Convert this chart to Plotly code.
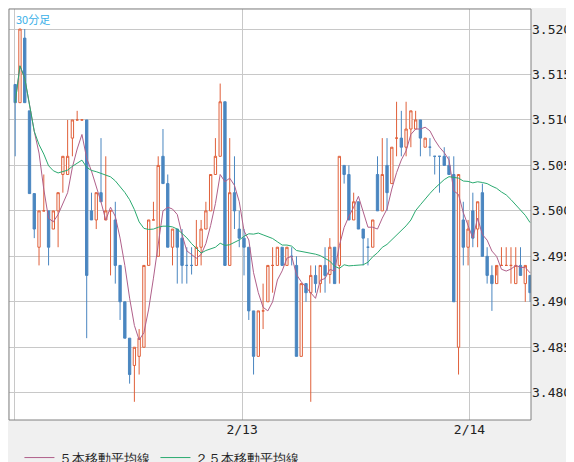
import numpy as np
import pandas as pd
import plotly.graph_objects as go

# 30-minute candles
opens = [3.5139, 3.5119, 3.5190, 3.5110, 3.5019, 3.4960, 3.5000, 3.5000, 3.4980, 3.5000,
         3.5040, 3.5040, 3.5080, 3.5100, 3.5100, 3.5100, 3.5000, 3.4990, 3.5020, 3.4990,
         3.5000, 3.4990, 3.4940, 3.4900, 3.4860, 3.4830, 3.4840, 3.4850, 3.4940, 3.4990,
         3.4950, 3.5060, 3.5030, 3.4960, 3.4980, 3.4970, 3.4940, 3.4940, 3.4940, 3.4960,
         3.4980, 3.5000, 3.5040, 3.5060, 3.5120, 3.4940, 3.5020, 3.4980, 3.4970, 3.4960,
         3.4890, 3.4840, 3.4890, 3.4900, 3.4940, 3.4940, 3.4960, 3.4940, 3.4950, 3.4940,
         3.4840, 3.4920, 3.4910, 3.4929, 3.4920, 3.4940, 3.4930, 3.4960, 3.4940, 3.5050,
         3.5040, 3.4990, 3.5010, 3.4980, 3.4960, 3.4960, 3.5040, 3.5000, 3.5050, 3.5030,
         3.5080, 3.5080, 3.5070, 3.5090, 3.5090, 3.5100, 3.5070, 3.5070, 3.5060, 3.5060,
         3.5060, 3.5050, 3.5040, 3.4850, 3.4990, 3.4960, 3.5000, 3.4980, 3.5020, 3.4950,
         3.4929, 3.4920, 3.4940, 3.4940, 3.4940, 3.4920, 3.4940, 3.4920, 3.4929]
highs = [3.5139, 3.5200, 3.5200, 3.5110, 3.5019, 3.5000, 3.5040, 3.5000, 3.5000, 3.5020,
         3.5060, 3.5100, 3.5100, 3.5110, 3.5100, 3.5100, 3.5020, 3.5020, 3.5080, 3.5060,
         3.5000, 3.5010, 3.4940, 3.4900, 3.4860, 3.4850, 3.4870, 3.4940, 3.4990, 3.5010,
         3.5060, 3.5090, 3.5040, 3.4980, 3.4980, 3.4980, 3.4960, 3.4960, 3.4990, 3.4990,
         3.5010, 3.5040, 3.5080, 3.5140, 3.5120, 3.5080, 3.5060, 3.5000, 3.4980, 3.4960,
         3.4890, 3.4890, 3.4920, 3.4940, 3.4960, 3.4960, 3.4960, 3.4960, 3.4960, 3.4950,
         3.4920, 3.4920, 3.4940, 3.4940, 3.4940, 3.4960, 3.4970, 3.4960, 3.5060, 3.5050,
         3.5050, 3.5020, 3.5010, 3.4980, 3.4970, 3.4990, 3.5060, 3.5080, 3.5080, 3.5070,
         3.5120, 3.5110, 3.5120, 3.5110, 3.5110, 3.5100, 3.5080, 3.5080, 3.5060, 3.5060,
         3.5070, 3.5060, 3.5060, 3.5040, 3.5010, 3.4990, 3.5020, 3.5010, 3.5030, 3.4960,
         3.4940, 3.4929, 3.4960, 3.4960, 3.4960, 3.4960, 3.4960, 3.4940, 3.4929]
lows = [3.5060, 3.5119, 3.5119, 3.5019, 3.4970, 3.4940, 3.5000, 3.4940, 3.4980, 3.4960,
        3.5020, 3.5040, 3.5060, 3.5100, 3.5100, 3.4860, 3.4990, 3.4980, 3.5010, 3.4990,
        3.4929, 3.4920, 3.4880, 3.4860, 3.4810, 3.4790, 3.4820, 3.4850, 3.4940, 3.4990,
        3.4950, 3.5030, 3.4960, 3.4940, 3.4920, 3.4920, 3.4920, 3.4930, 3.4940, 3.4940,
        3.4980, 3.5000, 3.5040, 3.5060, 3.4940, 3.4940, 3.4980, 3.4960, 3.4929, 3.4880,
        3.4820, 3.4840, 3.4870, 3.4900, 3.4910, 3.4940, 3.4940, 3.4940, 3.4940, 3.4840,
        3.4840, 3.4900, 3.4790, 3.4910, 3.4910, 3.4910, 3.4920, 3.4920, 3.4920, 3.5030,
        3.4990, 3.4990, 3.4980, 3.4940, 3.4940, 3.4960, 3.5000, 3.5000, 3.5000, 3.5030,
        3.5060, 3.5060, 3.5060, 3.5070, 3.5090, 3.5060, 3.5070, 3.5060, 3.5040, 3.5020,
        3.5050, 3.5040, 3.4900, 3.4820, 3.4940, 3.4940, 3.4960, 3.4960, 3.4950, 3.4920,
        3.4890, 3.4920, 3.4940, 3.4940, 3.4920, 3.4920, 3.4929, 3.4900, 3.4900]
closes = [3.5119, 3.5200, 3.5119, 3.5019, 3.4980, 3.5000, 3.5000, 3.4960, 3.5000, 3.5020,
          3.5060, 3.5060, 3.5100, 3.5100, 3.5100, 3.4929, 3.4990, 3.5020, 3.5010, 3.5000,
          3.5000, 3.4940, 3.4900, 3.4860, 3.4820, 3.4850, 3.4860, 3.4940, 3.4990, 3.4990,
          3.5050, 3.5030, 3.4960, 3.4980, 3.4960, 3.4940, 3.4940, 3.4940, 3.4960, 3.4980,
          3.5000, 3.5040, 3.5060, 3.5120, 3.4940, 3.5020, 3.5000, 3.4970, 3.4960, 3.4890,
          3.4840, 3.4890, 3.4890, 3.4940, 3.4940, 3.4960, 3.4940, 3.4960, 3.4950, 3.4840,
          3.4920, 3.4910, 3.4929, 3.4920, 3.4940, 3.4929, 3.4960, 3.4920, 3.5060, 3.5040,
          3.4990, 3.5010, 3.4980, 3.4970, 3.4960, 3.4990, 3.5000, 3.5040, 3.5020, 3.5070,
          3.5080, 3.5070, 3.5090, 3.5110, 3.5100, 3.5080, 3.5080, 3.5070, 3.5060, 3.5060,
          3.5050, 3.5040, 3.4900, 3.5040, 3.4960, 3.4980, 3.4970, 3.5010, 3.4950, 3.4929,
          3.4920, 3.4940, 3.4940, 3.4940, 3.4940, 3.4940, 3.4929, 3.4940, 3.4910]

date_pos = [-0.1, 47.6, 95.3]
date_labels = ["", "2/13", "2/14"]
y_ticks = [3.480, 3.485, 3.490, 3.495, 3.500, 3.505, 3.510, 3.515, 3.520]

x = list(range(len(closes)))
close_s = pd.Series(closes)
ma5 = close_s.rolling(5, min_periods=1).mean()
ma25 = close_s.rolling(25, min_periods=1).mean()

RED = "#e0603a"
BLUE = "#4a86c0"
FONT = "DejaVu Sans Mono"

fig = go.Figure()
fig.add_trace(go.Candlestick(
    x=x, open=opens, high=highs, low=lows, close=closes,
    increasing={"line": {"color": RED, "width": 1}, "fillcolor": "white"},
    decreasing={"line": {"color": BLUE, "width": 1}, "fillcolor": BLUE},
    whiskerwidth=0, showlegend=False, hoverinfo="skip",
))
fig.add_trace(go.Scatter(x=x, y=ma5, mode="lines", name="５本移動平均線",
                         line={"color": "#b0608a", "width": 1}))
fig.add_trace(go.Scatter(x=x, y=ma25, mode="lines", name="２５本移動平均線",
                         line={"color": "#2aaa70", "width": 1}))

fig.update_layout(
    width=574, height=462,
    margin={"l": 1, "r": 51, "t": 1, "b": 50, "autoexpand": False},
    paper_bgcolor="#f0f0f0", plot_bgcolor="white",
    font={"family": FONT, "size": 13, "color": "#222"},
    showlegend=True,
    legend={"orientation": "h", "x": 0.02, "y": -0.055, "yanchor": "top",
            "font": {"size": 13}, "itemwidth": 30, "bgcolor": "rgba(0,0,0,0)"},
    xaxis={"range": [-1.3, 108.2], "tickvals": date_pos, "ticktext": date_labels,
           "showgrid": True, "gridcolor": "#c8c8c8", "rangeslider": {"visible": False},
           "ticks": "", "zeroline": False, "fixedrange": True},
    yaxis={"range": [3.4770, 3.5222], "side": "right", "tickvals": y_ticks,
           "tickformat": ".3f", "showgrid": True, "gridcolor": "#c8c8c8",
           "ticks": "", "zeroline": False},
    annotations=[{"text": "30分足", "xref": "paper", "yref": "paper", "x": 0.01, "y": 1.0,
                  "xanchor": "left", "yanchor": "top", "showarrow": False,
                  "font": {"color": "#3ab0e8", "size": 11, "family": "Noto Sans CJK JP"}}],
    shapes=[
        {"type": "rect", "xref": "paper", "yref": "paper", "x0": 0, "x1": 1, "y0": 0, "y1": 1,
         "line": {"color": "#808080", "width": 1}},
    ],
)
fig.write_html("out.html")
